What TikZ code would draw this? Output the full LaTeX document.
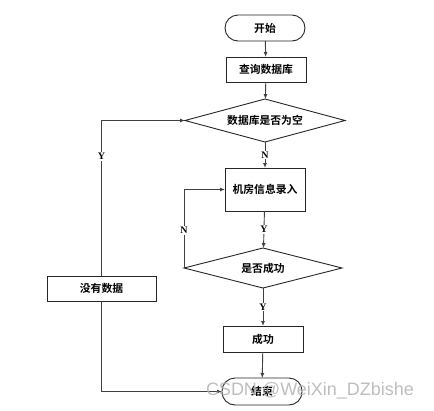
\documentclass[tikz,border=0pt]{standalone}
\usepackage{fontspec}
\setmainfont{Liberation Serif}
\newfontfamily\cjk{Noto Sans CJK SC}[BoldFont={Noto Sans CJK SC Bold}]
\newfontfamily\wmfont{Liberation Sans}
\usetikzlibrary{shapes.geometric,arrows.meta}
\begin{document}
\begin{tikzpicture}[x=1pt,y=-1pt,
  every node/.style={inner sep=0pt,outer sep=0pt},
  box/.style={draw=black!85,line width=0.9pt,minimum width=80pt,minimum height=25pt,font=\cjk\bfseries\fontsize{10.8}{12}\selectfont},
  term/.style={box,rounded corners=13pt,minimum height=26pt},
  dec/.style={draw=black!85,line width=0.9pt,diamond,aspect=3.8,minimum width=160pt,font=\cjk\bfseries\fontsize{10.8}{12}\selectfont},
  conn/.style={draw=black!75,line width=0.9pt,-{Latex[length=5pt,width=4pt]}},
  lbl/.style={fill=white,inner sep=1pt,font=\bfseries\fontsize{10}{11}\selectfont}]
\useasboundingbox (0,0) rectangle (434,410);
\node[term] (start) at (265,28) {开始};
\node[box] (query) at (266,69.5) {查询数据库};
\node[dec,minimum width=160pt,minimum height=43pt] (d1) at (265,120.5) {数据库是否为空};
\node[box,minimum height=43pt] (info) at (265,189.5) {机房信息录入};
\node[dec,minimum width=158pt,minimum height=40pt] (d2) at (263,268) {是否成功};
\node[box,minimum height=26pt] (ok) at (263,339) {成功};
\node[term,minimum height=27pt] (end) at (262,391.5) {结束};
\node[box,minimum width=109pt] (nodata) at (101.5,288.5) {没有数据};
\draw[conn] (start) -- (query);
\draw[conn] (query) -- (d1);
\draw[conn] (d1) -- node[lbl,pos=0.5]{N} (info);
\draw[conn] (info) -- node[lbl,pos=0.5]{Y} (d2);
\draw[conn] (d2.west) -- node[lbl,pos=0.48]{N} (d2.west |- info.west) -- (info.west);
\draw[conn] (d2) -- node[lbl,pos=0.5]{Y} (ok);
\draw[conn] (ok) -- (end);
\draw[conn] (nodata.north) -- node[lbl,pos=0.77]{Y} (nodata.north |- d1.west) -- (d1.west);
\draw[conn] (nodata.south) |- (end.west);
\node[anchor=west,text=gray!60,opacity=0.85,font=\wmfont\fontsize{18}{20}\selectfont] (wm) at (206,391) {CSDN @WeiXin\_DZbishe};
\end{tikzpicture}
\end{document}
